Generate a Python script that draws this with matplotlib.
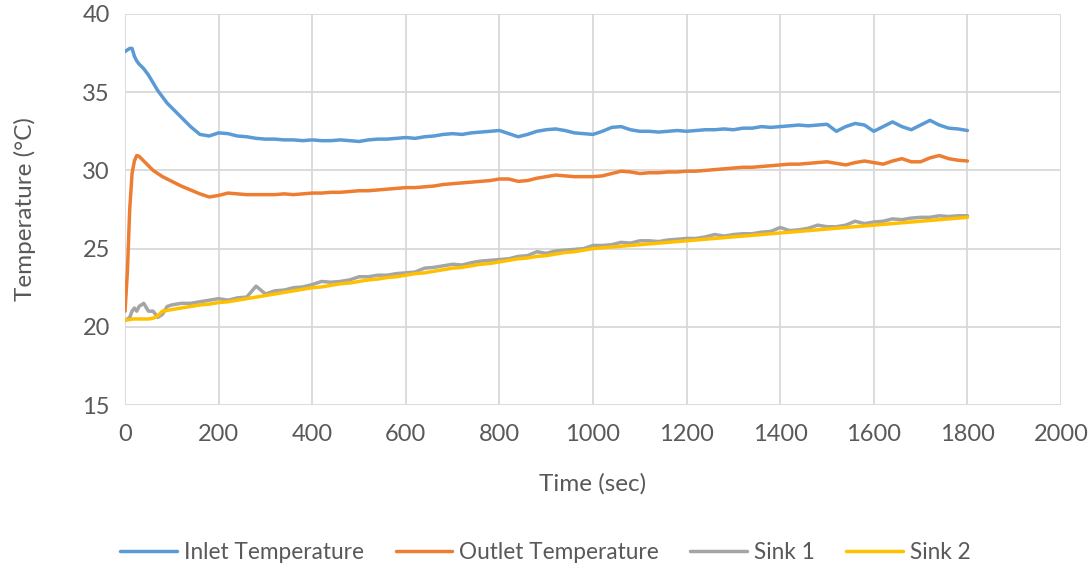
import matplotlib
matplotlib.use("Agg")
import matplotlib.pyplot as plt

time_s = [0, 5, 10, 15, 20, 25, 30, 40, 50, 60, 70, 80, 90, 100] + list(range(120, 1801, 20))

inlet = [37.6, 37.7, 37.8, 37.8, 37.3, 37.0, 36.8, 36.5, 36.1, 35.6, 35.1, 34.7, 34.3, 34.0,
         33.4, 32.8, 32.3, 32.2, 32.4, 32.35, 32.2, 32.15, 32.05, 32.0, 32.0, 31.95, 31.95, 31.9,
         31.95, 31.9, 31.9, 31.95, 31.9, 31.85, 31.95, 32.0, 32.0, 32.05, 32.1, 32.05, 32.15, 32.2,
         32.3, 32.35, 32.3, 32.4, 32.45, 32.5, 32.55, 32.35, 32.15, 32.3, 32.5, 32.6, 32.65, 32.55,
         32.4, 32.35, 32.3, 32.5, 32.75, 32.8, 32.6, 32.5, 32.5, 32.45, 32.5, 32.55, 32.5, 32.55,
         32.6, 32.6, 32.65, 32.6, 32.7, 32.7, 32.8, 32.75, 32.8, 32.85, 32.9, 32.85, 32.9, 32.95,
         32.5, 32.8, 33.0, 32.9, 32.5, 32.8, 33.1, 32.8, 32.6, 32.9, 33.2, 32.9, 32.7, 32.65, 32.55]

outlet = [21.0, 23.5, 27.5, 29.8, 30.6, 30.95, 30.9, 30.6, 30.3, 30.0, 29.8, 29.6, 29.45, 29.3,
          29.0, 28.75, 28.5, 28.3, 28.4, 28.55, 28.5, 28.45, 28.45, 28.45, 28.45, 28.5, 28.45, 28.5,
          28.55, 28.55, 28.6, 28.6, 28.65, 28.7, 28.7, 28.75, 28.8, 28.85, 28.9, 28.9, 28.95, 29.0,
          29.1, 29.15, 29.2, 29.25, 29.3, 29.35, 29.45, 29.45, 29.3, 29.35, 29.5, 29.6, 29.7, 29.65,
          29.6, 29.6, 29.6, 29.65, 29.8, 29.95, 29.9, 29.8, 29.85, 29.85, 29.9, 29.9, 29.95, 29.95,
          30.0, 30.05, 30.1, 30.15, 30.2, 30.2, 30.25, 30.3, 30.35, 30.4, 30.4, 30.45, 30.5, 30.55,
          30.45, 30.35, 30.5, 30.6, 30.5, 30.4, 30.6, 30.75, 30.55, 30.55, 30.8, 30.95, 30.75, 30.65, 30.6]

sink1 = [20.4, 20.5, 20.6, 21.0, 21.2, 21.0, 21.3, 21.5, 21.0, 21.0, 20.6, 20.8, 21.3, 21.4,
         21.5, 21.5, 21.6, 21.7, 21.8, 21.7, 21.85, 21.9, 22.6, 22.1, 22.3, 22.35, 22.5, 22.55,
         22.7, 22.9, 22.85, 22.9, 23.0, 23.2, 23.2, 23.3, 23.3, 23.4, 23.45, 23.5, 23.75, 23.8,
         23.9, 24.0, 23.95, 24.1, 24.2, 24.25, 24.3, 24.35, 24.5, 24.55, 24.8, 24.7, 24.85, 24.9,
         24.95, 25.0, 25.2, 25.2, 25.25, 25.4, 25.35, 25.5, 25.5, 25.45, 25.55, 25.6, 25.65, 25.65,
         25.75, 25.9, 25.8, 25.9, 25.95, 25.95, 26.05, 26.1, 26.35, 26.15, 26.2, 26.3, 26.5, 26.4,
         26.4, 26.5, 26.75, 26.6, 26.7, 26.75, 26.9, 26.85, 26.95, 27.0, 27.0, 27.1, 27.05, 27.1, 27.1]

sink2 = [20.45, 20.45, 20.45, 20.5, 20.5, 20.5, 20.5, 20.5, 20.5, 20.55, 20.7, 21.0, 21.05, 21.1,
         21.2, 21.3, 21.4, 21.45, 21.55, 21.6, 21.7, 21.8, 21.9, 22.0, 22.1, 22.2, 22.3, 22.4,
         22.5, 22.55, 22.65, 22.75, 22.8, 22.9, 23.0, 23.05, 23.15, 23.2, 23.3, 23.4, 23.45, 23.55,
         23.65, 23.75, 23.8, 23.9, 24.0, 24.05, 24.15, 24.25, 24.35, 24.4, 24.5, 24.55, 24.65, 24.75,
         24.8, 24.9, 25.0, 25.05, 25.1, 25.15, 25.2, 25.25, 25.3, 25.35, 25.4, 25.45, 25.5, 25.55,
         25.6, 25.65, 25.7, 25.75, 25.8, 25.85, 25.9, 25.95, 26.0, 26.05, 26.1, 26.15, 26.2, 26.25,
         26.3, 26.35, 26.4, 26.45, 26.5, 26.55, 26.6, 26.65, 26.7, 26.75, 26.8, 26.85, 26.9, 26.95, 27.0]

series_names = ["Inlet Temperature", "Outlet Temperature", "Sink 1", "Sink 2"]
colors = ["#5B9BD5", "#ED7D31", "#A5A5A5", "#FFC000"]
x_ticks = list(range(0, 2001, 200))
y_ticks = [15, 20, 25, 30, 35, 40]

plt.rcParams['font.family'] = ['Lato', 'DejaVu Sans']

fig = plt.figure(figsize=(10.91, 5.71), dpi=100)
ax = fig.add_axes([0.1146, 0.2907, 0.8579, 0.6848])

for data, name, c in zip([inlet, outlet, sink1, sink2], series_names, colors):
    ax.plot(time_s, data, color=c, lw=2.5, label=name, solid_capstyle='round')

ax.set_xlim(0, 2000)
ax.set_ylim(15, 40)
ax.set_xticks(x_ticks)
ax.set_yticks(y_ticks)
ax.grid(True, color="#D9D9D9", lw=1.3)
ax.set_axisbelow(True)
for s in ax.spines.values():
    s.set_visible(False)
ax.tick_params(length=0, labelsize=17, labelcolor="#595959")
ax.tick_params(axis='x', pad=14)
ax.tick_params(axis='y', pad=11)
ax.set_xlabel("Time (sec)", fontsize=17.5, color="#595959", labelpad=20)
ax.set_ylabel("Temperature (°C)", fontsize=17.5, color="#595959", labelpad=33)

leg = fig.legend(loc="center", bbox_to_anchor=(0.5, 0.032), ncol=4, frameon=False,
                 fontsize=16.3, handlelength=2.5, columnspacing=1.4, handletextpad=0.3)
for t in leg.get_texts():
    t.set_color("#595959")

fig.savefig("out.png", dpi=100)
